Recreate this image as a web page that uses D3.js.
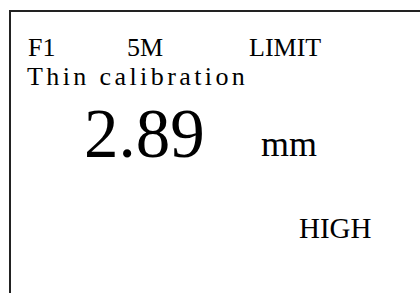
<!DOCTYPE html>
<html>
<head>
<meta charset="utf-8">
<script src="https://cdn.jsdelivr.net/npm/d3@7"></script>
<style>
  body { margin: 0; background: #fff; }
</style>
</head>
<body>
<div id="chart"></div>
<script>
// screen contents
var topLabels = ["F1", "5M", "LIMIT"];
var modeLabel = ["Thin calibration"];
var reading = [2.89];
var unitLabel = ["mm"];
var statusLabel = ["HIGH"];

var W = 420, H = 293;
var serif = "'Liberation Serif', 'Times New Roman', Times, 'DejaVu Serif', serif";
var svg = d3.select("#chart").append("svg")
    .attr("width", W).attr("height", H)
    .style("font-family", serif);

// display frame (top and left edges)
svg.append("path")
    .attr("d", "M10,293 L10,11 L420,11")
    .attr("fill", "none")
    .attr("stroke", "#222")
    .attr("stroke-width", 2);

function label(cls, data, x, y, size) {
  return svg.selectAll("text." + cls)
    .data(data)
    .enter().append("text")
      .attr("class", cls)
      .attr("x", x)
      .attr("y", y)
      .attr("font-family", serif)
      .attr("font-size", size)
      .attr("fill", "#000");
}

// top row labels
var xTop = d3.scaleOrdinal().domain(topLabels).range([28, 127, 249]);
label("top", topLabels, d => xTop(d), 56, 26).text(d => d);

label("mode", modeLabel, 27, 85, 26)
    .attr("letter-spacing", 3.4)
    .text(d => d);

label("val", reading, 84, 157, 69)
    .text(d => d3.format(".2f")(d));

label("unit", unitLabel, 261, 156, 36).text(d => d);

label("status", statusLabel, 299, 238, 29).text(d => d);
</script>
</body>
</html>
